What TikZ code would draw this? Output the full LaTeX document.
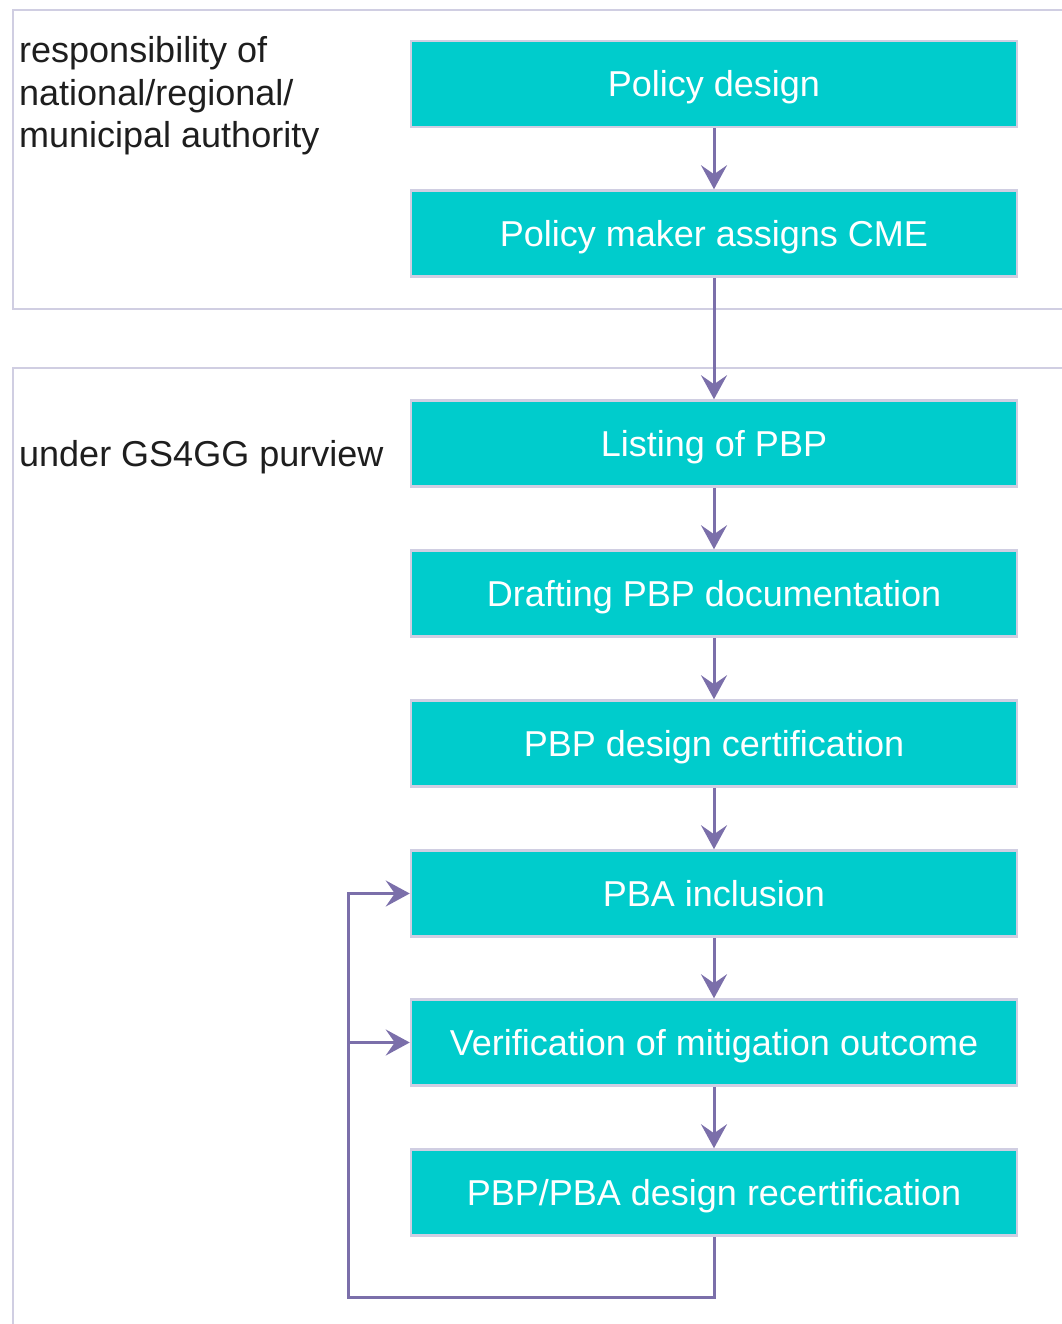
\documentclass[tikz,border=0pt]{standalone}
\usepackage{fontspec}
\setmainfont{Liberation Sans}
\usetikzlibrary{arrows.meta}
\definecolor{boxfill}{HTML}{00CCCC}
\definecolor{lav}{HTML}{D0CEE2}
\definecolor{arrc}{HTML}{7B6FAA}
\definecolor{labc}{HTML}{1E1E1E}
\begin{document}
\begin{tikzpicture}[x=1pt,y=-1pt,
  stepbox/.style={draw=lav, line width=2.5pt, fill=boxfill, text=white,
    minimum width=606pt, minimum height=86pt, inner sep=0pt,
    font=\fontsize{36}{42}\selectfont, text height=26pt, text depth=0pt},
  grouplabel/.style={text=labc, inner sep=0pt, align=left,
    font=\fontsize{36}{42.5}\selectfont},
  frame/.style={draw=lav, line width=2.5pt},
  arr/.style={draw=arrc, line width=3pt,
    -{Stealth[length=24pt, width=26pt, inset=9pt]}},
  flow/.style={draw=arrc, line width=3pt}
]
\useasboundingbox (0,0) rectangle (1061,1324);
% group frames
\draw[frame] (1062,10) -- (13,10) -- (13,309) -- (1062,309);
\draw[frame] (1062,368) -- (13,368) -- (13,1326);
% group labels
\node[grouplabel, anchor=base west] (g1) at (19,148) {responsibility of\\national/regional/\\municipal authority};
\node[grouplabel, anchor=base west] (g2) at (19,466) {under GS4GG purview};
% steps
\node[stepbox] (p1) at (714,84) {Policy design};
\node[stepbox] (p2) at (714,233.5) {Policy maker assigns CME};
\node[stepbox] (p3) at (714,443.5) {Listing of PBP};
\node[stepbox] (p4) at (714,593.5) {Drafting PBP documentation};
\node[stepbox] (p5) at (714,743.5) {PBP design certification};
\node[stepbox] (p6) at (714,893.5) {PBA inclusion};
\node[stepbox] (p7) at (714,1042.5) {Verification of mitigation outcome};
\node[stepbox] (p8) at (714,1192.5) {PBP/PBA design recertification};
% arrows
\draw[arr] (p1) -- (p2);
\draw[arr] (p2) -- (p3);
\draw[arr] (p3) -- (p4);
\draw[arr] (p4) -- (p5);
\draw[arr] (p5) -- (p6);
\draw[arr] (p6) -- (p7);
\draw[arr] (p7) -- (p8);
% feedback loop
\coordinate (loopL) at (348,1297);
\draw[arr] (p8.south) |- (loopL) |- (p6.west);
\draw[arr] (loopL |- p7.west) -- (p7.west);
\end{tikzpicture}
\end{document}
